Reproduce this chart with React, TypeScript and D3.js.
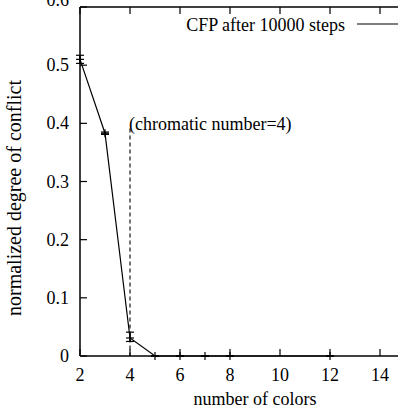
import React from "react";
import * as d3 from "d3";

const colors = [2, 3, 4, 5, 6, 7, 8, 12];
const conflict = [0.51, 0.383, 0.031, 0, 0, 0, 0, 0];
const errLow = [0.503, 0.381, 0.025, 0, 0, 0, 0, 0];
const errHigh = [0.517, 0.385, 0.041, 0, 0, 0, 0, 0];
const xTicks = [2, 4, 6, 8, 10, 12, 14];
const yTicks = [0, 0.1, 0.2, 0.3, 0.4, 0.5, 0.6];
const chromatic = 4;
const chromaticTop = 0.391;
const legendLabel = "CFP after 10000 steps";

const W = 398, H = 413;
const font = "Liberation Serif, DejaVu Serif, serif";

export default function App() {
  const x = d3.scaleLinear().domain([2, 15]).range([80, 405]);
  const y = d3.scaleLinear().domain([0, 0.6]).range([356, 7]);
  const pts = colors.map((c, i) => ({ c, v: conflict[i], lo: errLow[i], hi: errHigh[i] }));
  const line = d3.line<any>().x(d => x(d.c)).y(d => y(d.v));
  const tl = 7;
  const ts = { fontFamily: font, fontSize: "18px" };
  return (
    <svg width={W} height={H} style={{ position: "absolute", left: 0, top: 0, background: "#fff" }}>
      {/* borders */}
      <line x1={x(2)} x2={x(2)} y1={y(0.6)} y2={y(0)} stroke="#000" strokeWidth={1.5} />
      <line x1={x(2)} x2={x(15)} y1={y(0)} y2={y(0)} stroke="#000" strokeWidth={1.5} />
      <line x1={x(2)} x2={x(15)} y1={y(0.6)} y2={y(0.6)} stroke="#000" strokeWidth={1.5} />
      {/* x ticks */}
      {xTicks.map(t => (
        <g key={"x" + t}>
          <line x1={x(t)} x2={x(t)} y1={y(0)} y2={y(0) - tl} stroke="#000" strokeWidth={1.2} />
          <line x1={x(t)} x2={x(t)} y1={y(0.6)} y2={y(0.6) + tl} stroke="#000" strokeWidth={1.2} />
          <text style={ts} x={x(t)} y={y(0) + 25} textAnchor="middle">{t}</text>
        </g>
      ))}
      {/* y ticks */}
      {yTicks.map(t => (
        <g key={"y" + t}>
          <line x1={x(2)} x2={x(2) + tl} y1={y(t)} y2={y(t)} stroke="#000" strokeWidth={1.2} />
          <text style={ts} x={69} y={y(t) + (t === 0.6 ? -1 : 6)} textAnchor="end">{t === 0 ? "0" : t.toFixed(1)}</text>
        </g>
      ))}
      {/* axis labels */}
      <text style={ts} x={255} y={405} textAnchor="middle">number of colors</text>
      <text style={{ fontFamily: font, fontSize: "20px" }} transform={`translate(21,198) rotate(-90)`} textAnchor="middle">normalized degree of conflict</text>
      {/* chromatic marker */}
      <line x1={x(chromatic)} x2={x(chromatic)} y1={y(chromaticTop)} y2={y(0)} stroke="#000" strokeWidth={1.1} strokeDasharray="4,3" />
      <text style={ts} x={x(chromatic) - 1} y={y(chromaticTop) + 1}>(chromatic number=4)</text>
      {/* data line */}
      <path d={line(pts) || ""} fill="none" stroke="#000" strokeWidth={1.2} />
      {pts.map(p => (
        <g key={"p" + p.c} stroke="#000" strokeWidth={1.2}>
          <line x1={x(p.c)} x2={x(p.c)} y1={y(p.lo)} y2={y(p.hi)} />
          <line x1={x(p.c) - 4} x2={x(p.c) + 4} y1={y(p.lo)} y2={y(p.lo)} />
          <line x1={x(p.c) - 4} x2={x(p.c) + 4} y1={y(p.hi)} y2={y(p.hi)} />
          <line x1={x(p.c) - 4} x2={x(p.c) + 4} y1={y(p.v)} y2={y(p.v)} />
          <line x1={x(p.c)} x2={x(p.c)} y1={y(p.v) - 4} y2={y(p.v) + 4} />
        </g>
      ))}
      {/* legend */}
      <text style={ts} x={345} y={31} textAnchor="end">{legendLabel}</text>
      <line x1={357} x2={405} y1={24} y2={24} stroke="#000" strokeWidth={1.2} />
    </svg>
  );
}
